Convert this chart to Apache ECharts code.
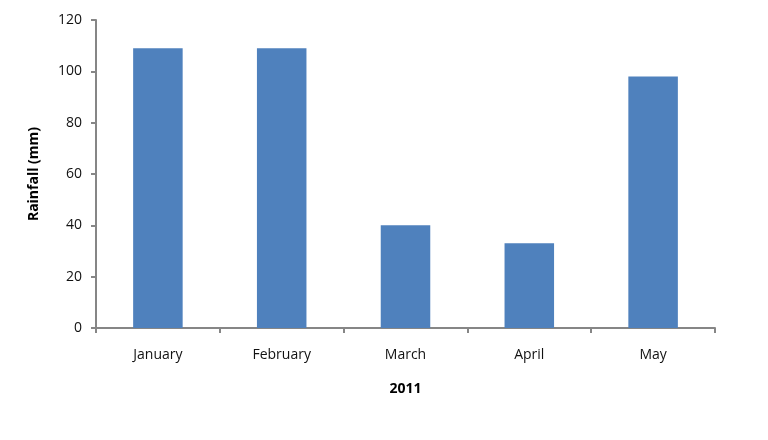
<!DOCTYPE html>
<html>
<head>
<meta charset="utf-8">
<script src="https://cdn.jsdelivr.net/npm/echarts@6/dist/echarts.min.js"></script>
<style>html,body{margin:0;padding:0;background:#fff;}#c{width:768px;height:440px;}</style>
</head>
<body>
<div id="c"></div>
<script>
const categories = ['January', 'February', 'March', 'April', 'May'];
const rainfall = [109, 109, 40, 33, 98];
const yTicks = { min: 0, max: 120, interval: 20 };
const xTitle = '2011';
const yTitle = 'Rainfall (mm)';

const chart = echarts.init(document.getElementById('c'), null, { renderer: 'canvas' });
const font = 'Open Sans, Noto Sans, sans-serif';
chart.setOption({
  animation: false,
  grid: { left: 96, top: 20, right: 53, bottom: 112 },
  xAxis: {
    type: 'category',
    data: categories,
    name: xTitle,
    nameLocation: 'middle',
    nameGap: 54,
    nameTextStyle: { fontFamily: font, fontSize: 14, fontWeight: 'bold', color: '#000' },
    axisLine: { lineStyle: { color: '#868686', width: 2 } },
    axisTick: { show: true, length: 5, lineStyle: { color: '#868686', width: 2 } },
    axisLabel: { fontFamily: font, fontSize: 14, color: '#111', margin: 20 },
    splitLine: { show: false }
  },
  yAxis: {
    type: 'value',
    min: yTicks.min,
    max: yTicks.max,
    interval: yTicks.interval,
    name: yTitle,
    nameLocation: 'middle',
    nameGap: 55,
    nameRotate: 90,
    nameTextStyle: { fontFamily: font, fontSize: 14, fontWeight: 'bold', color: '#000' },
    axisLine: { show: true, lineStyle: { color: '#868686', width: 2 } },
    axisTick: { show: true, length: 5, lineStyle: { color: '#868686', width: 2 } },
    axisLabel: { fontFamily: font, fontSize: 14, color: '#111', margin: 14 },
    splitLine: { show: false }
  },
  series: [{
    type: 'bar',
    data: rainfall,
    barWidth: '40%',
    itemStyle: { color: '#4F81BD' }
  }]
});
</script>
</body>
</html>
